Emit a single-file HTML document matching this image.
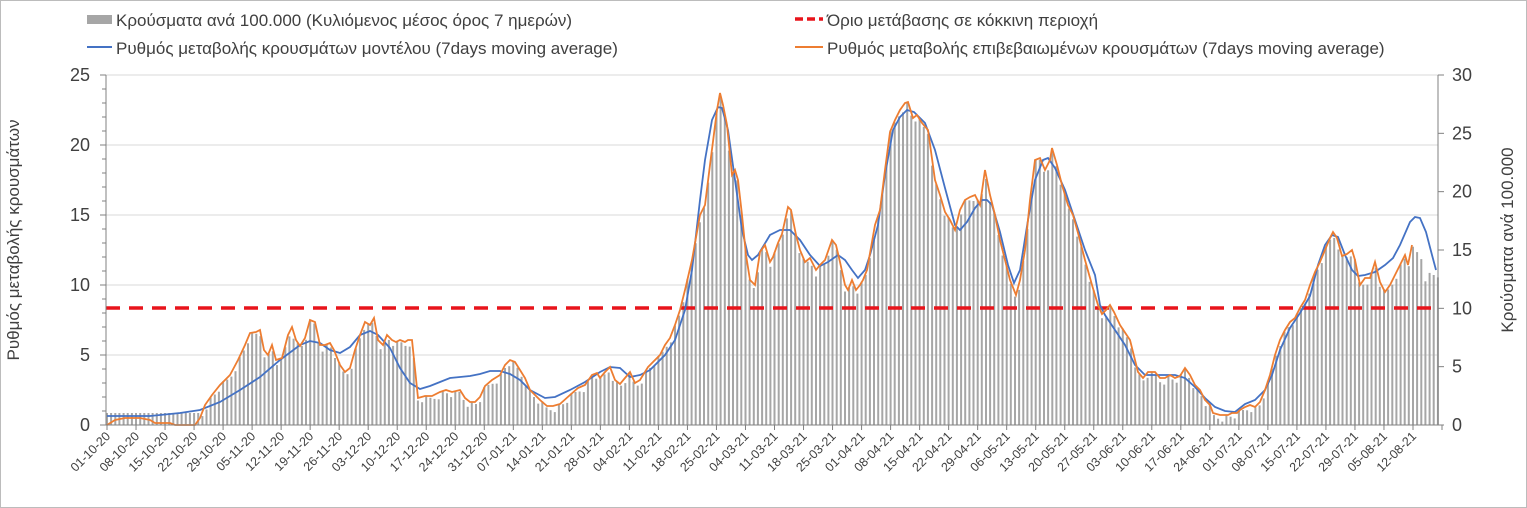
<!DOCTYPE html>
<html><head><meta charset="utf-8"><style>
html,body{margin:0;padding:0;background:#fff;}
svg{display:block;font-family:"Liberation Sans",sans-serif;}
</style></head><body>
<svg id="s" width="1527" height="508" xmlns="http://www.w3.org/2000/svg">
<rect x="0.5" y="0.5" width="1526" height="507" fill="#fff" stroke="#bcbcbc"/>
<g id="grid" stroke="#d9d9d9" stroke-width="1"></g>
<g id="bars" fill="#a6a6a6"></g>
<line x1="106" y1="308" x2="1438" y2="308" stroke="#e8141b" stroke-width="3.5" stroke-dasharray="14,9"/>
<path id="blue" fill="none" stroke="#4472c4" stroke-width="1.8"/>
<path id="orange" fill="none" stroke="#ed7d31" stroke-width="1.8"/>
<g id="axes" stroke="#808080" stroke-width="1"></g>
<g id="labels" font-size="18" fill="#404040"></g>
<g id="xl" font-size="12.5" fill="#404040"></g>
<text transform="translate(19,240) rotate(-90)" text-anchor="middle" font-size="17" fill="#404040">Ρυθμός μεταβολής κρουσμάτων</text>
<text transform="translate(1513,240) rotate(-90)" text-anchor="middle" font-size="17" fill="#404040">Κρούσματα ανά 100.000</text>
<rect x="87" y="15" width="25" height="9" fill="#a6a6a6"/>
<text x="116" y="26" font-size="17" fill="#404040">Κρούσματα ανά 100.000 (Κυλιόμενος μέσος όρος 7 ημερών)</text>
<line x1="87" y1="47" x2="112" y2="47" stroke="#4472c4" stroke-width="2"/>
<text x="116" y="54" font-size="17" fill="#404040">Ρυθμός μεταβολής κρουσμάτων μοντέλου (7days moving average)</text>
<line x1="795" y1="19" x2="823" y2="19" stroke="#e8141b" stroke-width="3.5" stroke-dasharray="8,4"/>
<text x="827" y="26" font-size="17" fill="#404040">Όριο μετάβασης σε κόκκινη περιοχή</text>
<line x1="795" y1="47" x2="823" y2="47" stroke="#ed7d31" stroke-width="2"/>
<text x="827" y="54" font-size="17" fill="#404040">Ρυθμός μεταβολής επιβεβαιωμένων κρουσμάτων (7days moving average)</text>
</svg>
<script>
var NS="http://www.w3.org/2000/svg";
function el(p,t,a,txt){var e=document.createElementNS(NS,t);for(var k in a)e.setAttribute(k,a[k]);if(txt!=null)e.textContent=txt;document.getElementById(p).appendChild(e);return e;}
var O=[[107,425],[115,420],[125,418],[140,418],[150,420],[155,423],[170,423],[175,425],[195,425],[200,418],[205,405],[212,395],[220,385],[230,375],[238,360],[245,345],[250,333],[256,332],[260,330],[264,350],[268,355],[272,345],[276,360],[282,358],[288,335],[292,327],[296,340],[300,346],[305,338],[310,320],[315,322],[320,345],[325,345],[330,343],[334,350],[340,365],[345,372],[350,368],[355,350],[360,335],[365,322],[370,325],[374,318],[378,340],[383,345],[387,335],[392,340],[396,342],[400,340],[405,342],[408,340],[412,340],[418,398],[425,396],[432,396],[440,392],[446,390],[452,392],[460,390],[465,398],[470,402],[475,402],[480,397],[485,386],[492,380],[500,375],[505,365],[510,360],[515,362],[520,370],[525,378],[530,390],[540,400],[547,406],[553,406],[560,404],[570,395],[578,388],[585,385],[592,375],[597,373],[600,378],[605,372],[610,367],[615,380],[620,384],[625,378],[630,372],[635,383],[640,380],[648,367],[655,360],[660,355],[665,345],[670,338],[675,325],[680,310],[685,290],[692,260],[700,215],[705,205],[710,165],[717,110],[720,93],[723,105],[727,125],[732,175],[735,170],[738,180],[742,215],[746,255],[750,280],[755,285],[760,252],[765,245],[770,262],[773,257],[778,243],[782,234],[788,207],[791,210],[796,235],[800,250],[805,262],[810,258],[816,270],[820,265],[825,260],[832,240],[836,245],[840,262],[845,285],[848,290],[852,280],[856,290],[860,285],[863,280],[867,270],[875,225],[880,210],[885,170],[890,132],[895,120],[900,110],[905,103],[908,102],[913,118],[917,115],[922,123],[928,130],[935,180],[940,195],[945,212],[950,220],[955,230],[960,210],[965,200],[970,197],[975,195],[980,205],[985,170],[990,195],[995,215],[1000,240],[1010,280],[1016,295],[1020,280],[1025,250],[1030,200],[1035,160],[1040,158],[1045,170],[1050,160],[1052,148],[1057,165],[1062,185],[1068,205],[1073,215],[1078,233],[1085,260],[1092,285],[1098,305],[1102,314],[1106,310],[1110,305],[1114,312],[1120,325],[1130,340],[1138,372],[1143,378],[1148,372],[1155,372],[1160,378],[1165,378],[1170,375],[1175,378],[1180,376],[1185,368],[1190,375],[1195,385],[1200,390],[1205,400],[1210,405],[1213,413],[1220,415],[1228,415],[1232,413],[1237,413],[1240,410],[1245,407],[1250,405],[1255,407],[1260,402],[1265,390],[1270,375],[1275,355],[1280,340],[1285,330],[1290,322],[1295,318],[1300,308],[1305,300],[1310,285],[1315,272],[1320,262],[1325,250],[1330,238],[1333,232],[1337,238],[1342,256],[1347,254],[1352,250],[1355,260],[1360,285],[1365,278],[1370,278],[1375,262],[1380,282],[1385,292],[1390,285],[1395,275],[1400,265],[1405,255],[1408,265],[1412,245]];
var B=[[107,416],[150,416],[180,413],[200,410],[220,402],[240,390],[260,377],[280,360],[300,345],[310,341],[320,343],[330,350],[340,353],[350,347],[360,335],[370,331],[378,335],[390,348],[400,368],[410,383],[420,389],[430,386],[440,382],[450,378],[460,377],[470,376],[480,374],[490,371],[500,371],[510,374],[520,380],[530,390],[545,398],[555,397],[570,390],[585,382],[600,372],[610,367],[620,368],[630,377],[640,375],[650,370],[665,355],[675,340],[685,310],[692,270],[700,200],[705,160],[712,120],[718,107],[722,108],[728,130],[735,180],[742,230],[748,255],[752,260],[758,255],[770,235],[780,230],[790,230],[800,240],[810,255],[820,266],[828,262],[838,255],[845,260],[852,270],[858,278],[865,270],[870,255],[878,225],[885,175],[893,130],[900,117],[907,110],[914,112],[925,123],[935,150],[945,188],[955,225],[960,230],[967,222],[975,208],[982,200],[987,200],[992,205],[1000,232],[1008,265],[1014,283],[1020,270],[1028,220],[1035,180],[1043,160],[1048,158],[1055,168],[1065,190],[1075,220],[1085,250],[1095,275],[1100,305],[1105,315],[1115,330],[1125,345],[1135,365],[1145,375],[1160,375],[1175,375],[1185,378],[1195,387],[1205,398],[1215,407],[1225,411],[1235,412],[1245,404],[1255,400],[1265,390],[1272,375],[1280,350],[1290,328],[1300,313],[1310,296],[1318,265],[1325,245],[1332,235],[1338,237],[1345,255],[1352,270],[1358,276],[1365,275],[1375,272],[1385,265],[1393,258],[1400,245],[1410,222],[1415,217],[1420,218],[1426,232],[1432,255],[1436,270]];
function pd(a){return "M"+a.map(function(p){return p[0]+","+p[1]}).join("L");}
document.getElementById("orange").setAttribute("d",pd(O));
document.getElementById("blue").setAttribute("d",pd(B));
function interp(a,x){if(x<=a[0][0])return a[0][1];for(var i=1;i<a.length;i++){if(x<=a[i][0]){var t=(x-a[i-1][0])/(a[i][0]-a[i-1][0]);return a[i-1][1]+t*(a[i][1]-a[i-1][1]);}}return a[a.length-1][1];}
var EXT=O.concat([[1415,252],[1420,248],[1425,275],[1430,272],[1437,272]]);
var dx=4.146;
for(var d=0;d<322;d++){var x=107+d*dx;var y=interp(EXT,x)+3+((d*37)%7-3)*1.2;
 if(x<200)y=Math.min(413,y);
 if(y>424)y=424;
 el("bars","rect",{x:(x-1).toFixed(1),y:y.toFixed(1),width:2,height:(425-y).toFixed(1)});}
for(var v=5;v<=25;v+=5){var y=425-v*14;el("grid","line",{x1:106,y1:y,x2:1438,y2:y});}
el("axes","line",{x1:106,y1:75,x2:106,y2:425});
el("axes","line",{x1:1438,y1:75,x2:1438,y2:425});
el("axes","line",{x1:106,y1:425,x2:1438,y2:425});
for(var v=0;v<=25;v++){var y=425-v*14;el("axes","line",{x1:v%5?102:100,y1:y,x2:106,y2:y});}
for(var v=0;v<=30;v+=5){var y=425-v*11.667;el("axes","line",{x1:1438,y1:y,x2:1444,y2:y});}
for(var v=0;v<=25;v+=5){el("labels","text",{x:90,y:425-v*14+6,"text-anchor":"end"},String(v));}
for(var v=0;v<=30;v+=5){el("labels","text",{x:1452,y:425-v*11.667+6},String(v));}
var start=new Date(2020,9,1);
for(var w=0;w<=46;w++){var d=w*7;var x=107+d*dx;el("axes","line",{x1:x,y1:425,x2:x,y2:430});
 var dt=new Date(start.getTime()+d*86400000+3600000*12);
 var s=("0"+dt.getDate()).slice(-2)+"-"+("0"+(dt.getMonth()+1)).slice(-2)+"-"+String(dt.getFullYear()).slice(-2);
 if(x<1420)el("xl","text",{transform:"translate("+(x+4)+",437) rotate(-45)","text-anchor":"end"},s);}
</script>
</body></html>
